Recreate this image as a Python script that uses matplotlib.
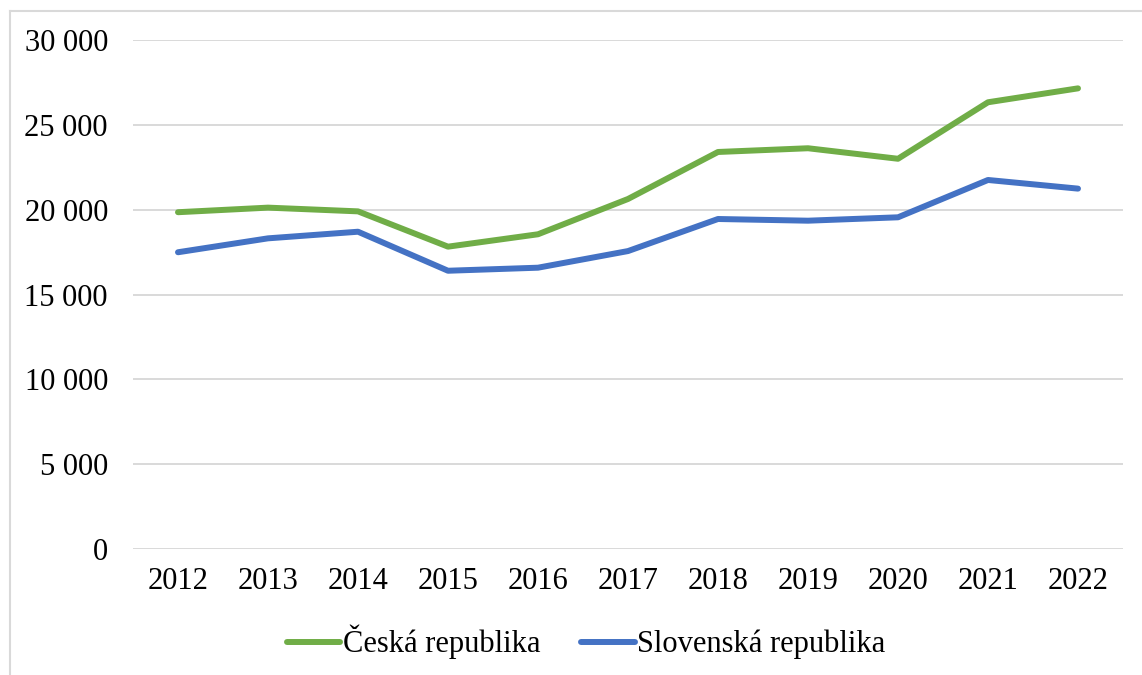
import matplotlib.pyplot as plt
from matplotlib.lines import Line2D
from matplotlib.ticker import FuncFormatter

years = ['2012', '2013', '2014', '2015', '2016', '2017', '2018', '2019', '2020', '2021', '2022']
cz = [19850, 20120, 19900, 17820, 18550, 20630, 23400, 23620, 23000, 26330, 27150]
sk = [17490, 18310, 18700, 16400, 16580, 17560, 19450, 19350, 19550, 21750, 21240]
labels = ['Česká republika', 'Slovenská republika']
colors = ['#70AD47', '#4472C4']

plt.rcParams['font.family'] = ['Liberation Serif', 'DejaVu Serif']

fig = plt.figure(figsize=(11.42, 6.75), dpi=100)
ax = fig.add_axes([133 / 1142, 1 - 549 / 675, 990 / 1142, 509 / 675])

x = range(len(years))
for vals, lab, col in zip([cz, sk], labels, colors):
    ax.plot(x, vals, color=col, lw=4.3, solid_capstyle='round', solid_joinstyle='round', label=lab)

ax.set_xlim(-0.5, len(years) - 0.5)
ax.set_ylim(0, 30000)
ax.set_yticks(range(0, 30001, 5000))
ax.yaxis.set_major_formatter(FuncFormatter(lambda v, p: f'{int(v):,}'.replace(',', ' ')))
ax.set_xticks(list(x))
ax.set_xticklabels(years)
ax.grid(axis='y', color='#D9D9D9', lw=1.4)
ax.set_axisbelow(True)
for s in ax.spines.values():
    s.set_visible(False)
ax.tick_params(axis='both', length=0, labelsize=22, colors='black')
ax.tick_params(axis='y', pad=18)
ax.tick_params(axis='x', pad=13)

handles = [Line2D([0], [0], color=c, lw=4.3, solid_capstyle='round') for c in colors]
fig.legend(handles, labels, loc='center', bbox_to_anchor=(586 / 1142, 1 - 642 / 675),
           ncol=2, frameon=False, fontsize=22, handlelength=1.75, handletextpad=0.07,
           columnspacing=1.35)

# light frame around the chart
fig.add_artist(Line2D([10 / 1142, 10 / 1142], [0, 1 - 11 / 675], color='#D9D9D9', lw=1.5))
fig.add_artist(Line2D([10 / 1142, 1], [1 - 11 / 675, 1 - 11 / 675], color='#D9D9D9', lw=1.5))

fig.savefig('out.png', dpi=100)
